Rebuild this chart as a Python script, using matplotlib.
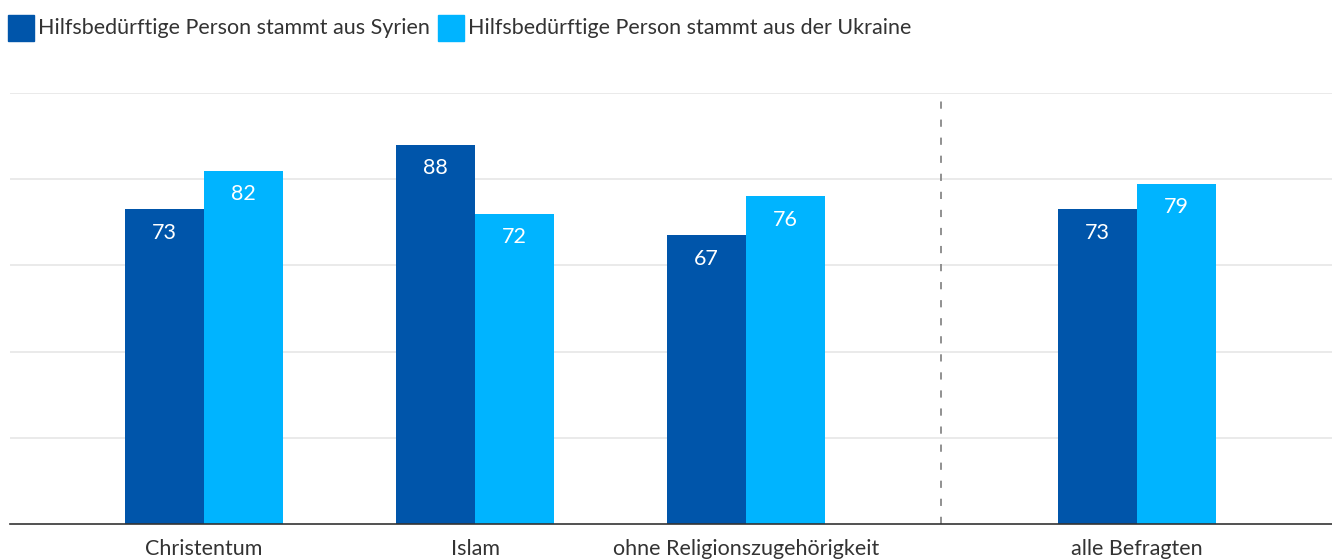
import matplotlib
matplotlib.use('agg')
from matplotlib import pyplot as plt
from matplotlib.patches import Rectangle

plt.rcParams['font.family'] = ['Lato', 'DejaVu Sans']

categories = ['Christentum', 'Islam', 'ohne Religionszugehörigkeit', 'alle Befragten']
syrien = [73, 88, 67, 73]
ukraine = [82, 72, 76, 79]
series_names = ['Hilfsbedürftige Person stammt aus Syrien',
                'Hilfsbedürftige Person stammt aus der Ukraine']
colors = ['#0055aa', '#00b4ff']

W, H = 1332, 559
fig = plt.figure(figsize=(W / 100, H / 100), dpi=100)
ax = fig.add_axes([10 / W, (H - 524) / H, (W - 10) / W, (524 - 93) / H])

xpos = [0, 1, 2, 3.443]
bw = 0.2915
for i, vals in enumerate([syrien, ukraine]):
    xs = [x + (i - 0.5) * bw for x in xpos]
    ax.bar(xs, vals, width=bw, color=colors[i], zorder=3)
    for x, v in zip(xs, vals):
        ax.text(x, v - 5.4, str(v), ha='center', va='center', color='white',
                fontsize=15.5, zorder=4)

ax.set_xlim(-0.716, 4.162)
ax.set_ylim(0, 100)
ax.set_yticks([20, 40, 60, 80, 100])
ax.yaxis.grid(True, color='#e6e6e6', linewidth=1.2, zorder=0)
ax.set_yticklabels([])
ax.tick_params(axis='y', length=0)
ax.set_xticks(xpos)
ax.set_xticklabels(categories, fontsize=15.5, color='#333333')
ax.tick_params(axis='x', length=0, pad=11)
for s in ['top', 'right', 'left']:
    ax.spines[s].set_visible(False)
ax.spines['bottom'].set_color('#333333')
ax.spines['bottom'].set_linewidth(1.2)
ax.spines['bottom'].set_zorder(5)

ax.axvline(2.72, ymin=0, ymax=1, color='#888888', linestyle=(0, (4, 6)),
           linewidth=1.3, zorder=2)

# legend drawn manually at top-left
lx = 8
for name, c in zip(series_names, colors):
    fig.patches.append(Rectangle((lx / W, (H - 41) / H), 26 / W, 26 / H,
                                 transform=fig.transFigure, color=c))
    t = fig.text((lx + 30) / W, (H - 28) / H, name, fontsize=15.5,
                 color='#333333', va='center', ha='left')
    fig.canvas.draw()
    bb = t.get_window_extent()
    lx = bb.x1 + 8

fig.savefig('out.png', dpi=100)
